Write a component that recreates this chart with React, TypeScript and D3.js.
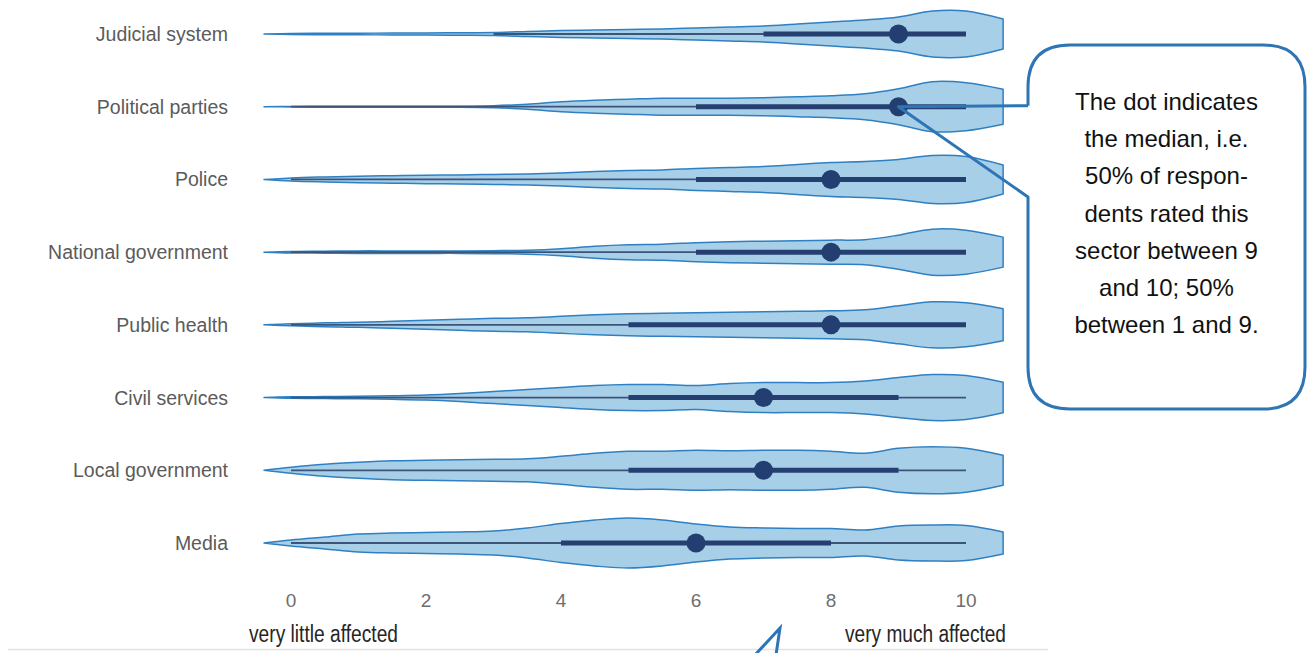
import React from "react";
import * as d3 from "d3";

// ---- data ----
const categories = [
  "Judicial system",
  "Political parties",
  "Police",
  "National government",
  "Public health",
  "Civil services",
  "Local government",
  "Media",
];

// grid of rating values at which the density is given
const gridValues = [-0.4, 0, 0.5, 1, 1.5, 2, 2.5, 3, 3.5, 4, 4.5, 5, 5.5, 6, 6.5, 7, 7.5, 8, 8.5, 9, 9.5, 10, 10.55];

// relative density (0-100) per category
const densJudicial = [0, 2, 3, 3, 4, 4, 5, 6, 10, 14, 16, 18, 20, 24, 28, 32, 40, 48, 56, 68, 92, 92, 60];
const densPolitical = [0, 1, 2, 2, 2, 2, 2, 4, 10, 20, 26, 30, 34, 34, 34, 36, 40, 44, 52, 72, 100, 96, 70];
const densPolice = [0, 6, 10, 13, 15, 17, 18, 20, 22, 26, 32, 36, 38, 44, 48, 52, 60, 68, 72, 80, 96, 92, 58];
const densNational = [0, 3, 4, 5, 5, 5, 5, 6, 8, 14, 24, 30, 32, 38, 42, 44, 46, 48, 50, 68, 92, 88, 60];
const densHealth = [0, 4, 8, 10, 14, 18, 22, 26, 28, 34, 40, 44, 46, 48, 50, 52, 54, 56, 60, 76, 92, 88, 64];
const densCivil = [0, 3, 4, 5, 7, 10, 16, 24, 32, 40, 48, 52, 52, 48, 56, 60, 60, 60, 66, 80, 92, 88, 61];
const densLocal = [0, 12, 24, 32, 38, 40, 42, 44, 46, 56, 68, 76, 76, 80, 78, 80, 80, 76, 68, 88, 94, 88, 60];
const densMedia = [0, 12, 24, 36, 40, 42, 44, 48, 60, 78, 92, 100, 92, 76, 64, 60, 58, 58, 52, 68, 72, 70, 44];
const densities = [densJudicial, densPolitical, densPolice, densNational, densHealth, densCivil, densLocal, densMedia];

const medians = [9, 9, 8, 8, 8, 7, 7, 6];
const q1 = [7, 6, 6, 6, 5, 5, 5, 4];
const q3 = [10, 10, 10, 10, 10, 9, 9, 8];
const whiskerLow = [3, 0, 0, 0, 0, 0, 0, 0];
const whiskerHigh = [10, 10, 10, 10, 10, 10, 10, 10];

const tickValues = [0, 2, 4, 6, 8, 10];
const axisLeftLabel = "very little affected";
const axisRightLabel = "very much affected";

const calloutLines = [
  "The dot indicates",
  "the median, i.e.",
  "50% of respon-",
  "dents rated this",
  "sector between 9",
  "and 10; 50%",
  "between 1 and 9.",
];
const calloutCategory = "Political parties";

// ---- layout ----
const W = 1315;
const H = 653;
const FONT = "'Liberation Sans', Arial, Helvetica, sans-serif";

export default function App() {
  const x = d3.scaleLinear().domain([0, 10]).range([291, 966]);
  const y = d3.scalePoint<string>().domain(categories).range([34, 543]);
  const w = d3.scaleLinear().domain([0, 100]).range([0, 25]);

  const violins = categories.map((c, i) => {
    const yc = y(c) as number;
    const pts = gridValues.map((v, j) => ({ v, d: densities[i][j] }));
    const area = d3
      .area<{ v: number; d: number }>()
      .x((p) => x(p.v))
      .y0((p) => yc - w(p.d))
      .y1((p) => yc + w(p.d))
      .curve(d3.curveCatmullRom.alpha(0.5));
    return area(pts) as string;
  });

  // callout geometry
  const bx0 = 1028, bx1 = 1305, by0 = 45, by1 = 409, r = 42;
  const ci = categories.indexOf(calloutCategory);
  const px = x(medians[ci]);
  const py = y(calloutCategory) as number;
  const wedgeTop = py - 1;
  const wedgeBottom = 197;
  const calloutPath = [
    `M${bx0},${wedgeTop}`,
    `L${bx0},${by0 + r}`,
    `Q${bx0},${by0} ${bx0 + r},${by0}`,
    `L${bx1 - r},${by0}`,
    `Q${bx1},${by0} ${bx1},${by0 + r}`,
    `L${bx1},${by1 - r}`,
    `Q${bx1},${by1} ${bx1 - r},${by1}`,
    `L${bx0 + r},${by1}`,
    `Q${bx0},${by1} ${bx0},${by1 - r}`,
    `L${bx0},${wedgeBottom}`,
    `L${px},${py}`,
    `L${bx0},${wedgeTop}`,
  ].join(" ");
  const cx = (bx0 + bx1) / 2;

  return (
    <svg
      width={W}
      height={H}
      style={{ position: "absolute", left: 0, top: 0, background: "#fff" }}
      fontFamily={FONT}
    >
      {/* category labels */}
      {categories.map((c) => (
        <text
          key={c}
          x={228}
          y={y(c) as number}
          dy="0.36em"
          textAnchor="end"
          fontSize={19.5}
          fill="#5b5b5b"
        >
          {c}
        </text>
      ))}

      {/* violins */}
      {categories.map((c, i) => {
        const yc = y(c) as number;
        return (
          <g key={c}>
            <path d={violins[i]} fill="#a8cfe8" stroke="#2f80c2" strokeWidth={1.5} strokeLinejoin="round" />
            <line x1={x(whiskerLow[i])} x2={x(whiskerHigh[i])} y1={yc} y2={yc} stroke="#3d5479" strokeWidth={1.8} />
            <line x1={x(q1[i])} x2={x(q3[i])} y1={yc} y2={yc} stroke="#243f70" strokeWidth={5} />
            <circle cx={x(medians[i])} cy={yc} r={9.5} fill="#233e70" />
          </g>
        );
      })}

      {/* x tick labels */}
      {tickValues.map((t) => (
        <text key={t} x={x(t)} y={607} textAnchor="middle" fontSize={19} fill="#6e6e6e">
          {t}
        </text>
      ))}
      <text x={249} y={642} fontSize={23} fill="#262626" textLength={149} lengthAdjust="spacingAndGlyphs">
        {axisLeftLabel}
      </text>
      <text x={845} y={642} fontSize={23} fill="#262626" textLength={161} lengthAdjust="spacingAndGlyphs">
        {axisRightLabel}
      </text>

      {/* bottom rule */}
      <line x1={8} x2={1048} y1={649.5} y2={649.5} stroke="#e3e3e3" strokeWidth={1.5} />

      {/* callout */}
      <path d={calloutPath} fill="none" stroke="#2e75b6" strokeWidth={3} strokeLinejoin="round" />
      {calloutLines.map((l, i) => (
        <text key={i} x={cx} y={110 + i * 37.2} textAnchor="middle" fontSize={24} fill="#111">
          {l}
        </text>
      ))}

      {/* arrow head at bottom */}
      <path d="M755,655 L780,628 L776,655" fill="none" stroke="#2e75b6" strokeWidth={3} strokeLinejoin="miter" />
    </svg>
  );
}
